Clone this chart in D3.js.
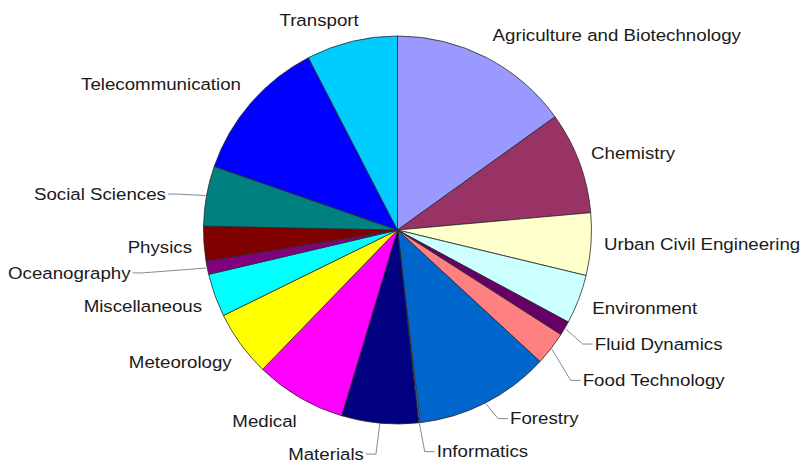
<!DOCTYPE html>
<html><head><meta charset="utf-8">
<script src="https://cdn.jsdelivr.net/npm/d3@7"></script>
<style>html,body{margin:0;padding:0;background:#fff}svg{display:block}</style>
</head><body>
<svg id="chart" width="801" height="465"></svg>
<script>
const categories = ["Agriculture and Biotechnology","Chemistry","Urban Civil Engineering","Environment","Fluid Dynamics","Food Technology","Forestry","Informatics","Materials","Medical","Meteorology","Miscellaneous","Oceanography","Physics","Social Sciences","Telecommunication","Transport"];
const values = [15.1, 8.5, 5.2, 4.1, 1.2, 2.8, 11.3, 0.1, 6.4, 7.6, 5.5, 3.6, 1.1, 2.9, 5.0, 12.1, 7.6];
const colors = ["#9999FF","#993366","#FFFFCC","#CCFFFF","#660066","#FF8080","#0066CC","#CCCCFF","#000080","#FF00FF","#FFFF00","#00FFFF","#800080","#800000","#008080","#0000FF","#00CCFF"];
// label layout nudges (px) relative to the radial anchor; leader = draw a connector
const labelNudge = [[-3,-3],[-8,-2],[-8,-2],[-6,1],[12,5],[15,19],[15,-3],[15,8],[-14,10],[8,6],[8,6],[7,4],[-56,1],[9,2],[-20,2],[6,-5],[12,-1]];
const leader = [0,0,0,0,1,1,1,1,1,0,0,0,1,0,1,0,0];

const svg = d3.select("#chart");
const cx = 397.5, cy = 230, R = 194, RL = 215;
const g = svg.append("g").attr("transform", `translate(${cx},${cy})`);
const data = categories.map((c,i)=>({name:c, value:values[i], color:colors[i], i}));
const pie = d3.pie().value(d=>d.value).sort(null);
const arcs = pie(data);
const arc = d3.arc().innerRadius(0).outerRadius(R);

g.selectAll("path.slice").data(arcs).join("path")
  .attr("class","slice")
  .attr("d", arc)
  .attr("fill", d=>d.data.color)
  .attr("stroke","#2a2a2a").attr("stroke-width",0.8).attr("stroke-linejoin","round");

const sx = 1.1;
arcs.forEach(a=>{
  const i = a.data.i;
  const mid = (a.startAngle + a.endAngle)/2;
  const ax = RL*Math.sin(mid), ay = -RL*Math.cos(mid);
  const right = Math.sin(mid) > 0 && mid < Math.PI*1.9;
  const lx = ax + labelNudge[i][0], ly = ay + labelNudge[i][1];
  if (leader[i]) {
    const ex = (R+1)*Math.sin(mid), ey = -(R+1)*Math.cos(mid);
    const dir = right ? 1 : -1;
    const pts = [[ex,ey],[lx-dir*12, ly],[lx-dir*2, ly]];
    g.append("path").attr("d", d3.line()(pts))
      .attr("fill","none").attr("stroke","#8a8a8a").attr("stroke-width",1);
  }
  g.append("text")
    .attr("transform", `translate(${lx},${ly}) scale(${sx},1)`)
    .attr("text-anchor", right ? "start" : "end")
    .attr("dominant-baseline","central")
    .attr("font-family","'Liberation Sans', Arial, sans-serif")
    .attr("font-size","17px")
    .attr("fill","#1a1a1a")
    .text(a.data.name);
});
</script>
</body></html>
